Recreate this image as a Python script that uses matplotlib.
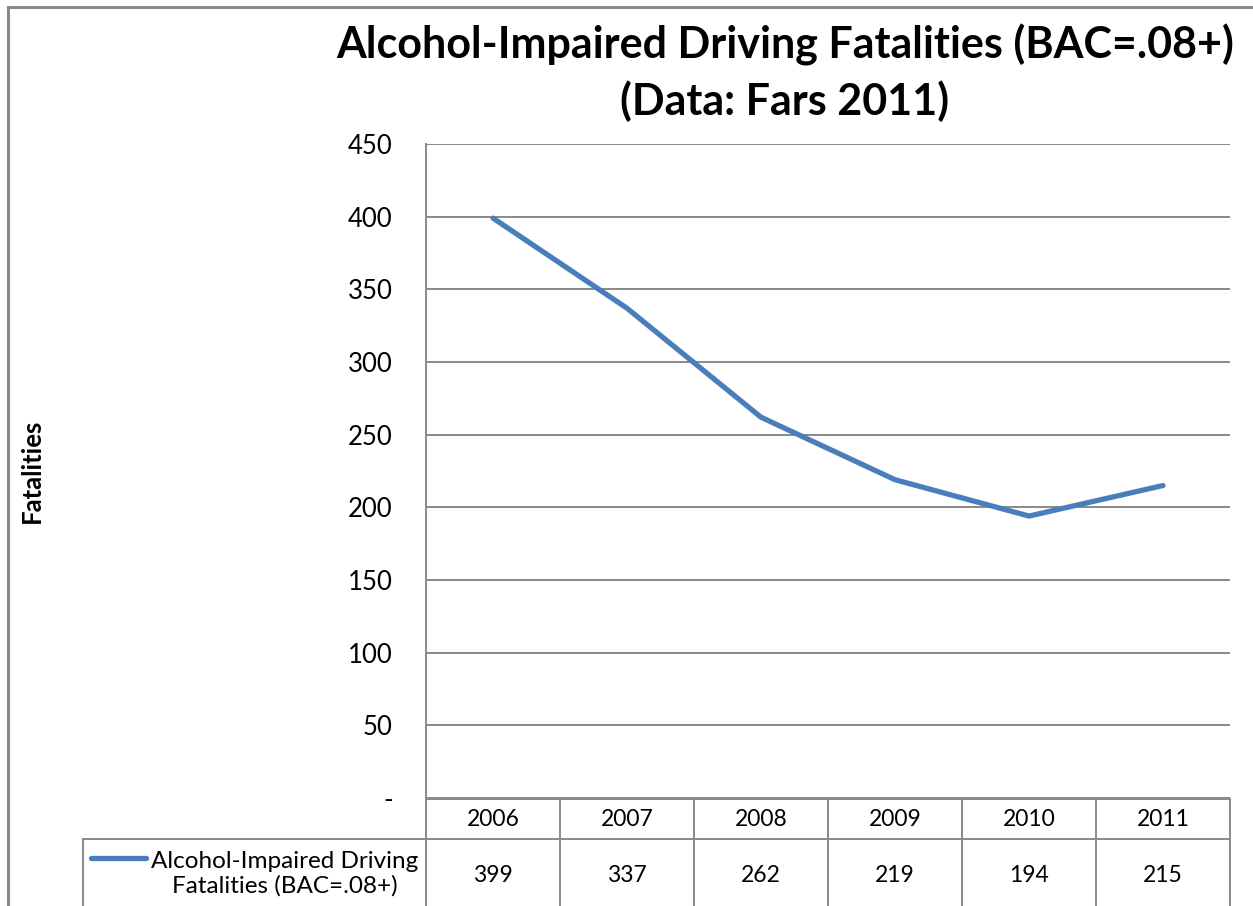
import matplotlib.pyplot as plt
from matplotlib.lines import Line2D
from matplotlib.patches import Rectangle

plt.rcParams['font.family'] = ['Lato', 'DejaVu Sans']

years = ["2006", "2007", "2008", "2009", "2010", "2011"]
fatalities = [399, 337, 262, 219, 194, 215]
series_name = "Alcohol-Impaired Driving\nFatalities (BAC=.08+)"
yticks = [0, 50, 100, 150, 200, 250, 300, 350, 400, 450]
ytick_labels = ["-", "50", "100", "150", "200", "250", "300", "350", "400", "450"]

W, H = 1253, 906
fig = plt.figure(figsize=(W / 100, H / 100), dpi=100)
grey = "#898989"
blue = "#4A7EBB"

# outer chart border (cropped on right and bottom)
fig.patches.append(Rectangle((8 / W, -0.1), 1.2, 1 - 7 / H + 0.1, transform=fig.transFigure,
                             fill=False, edgecolor=grey, linewidth=2.2))

left, right, top, bottom = 426 / W, 1230 / W, 1 - 144 / H, 1 - 798 / H
ax = fig.add_axes([left, bottom, right - left, top - bottom])

x = list(range(len(years)))
ax.plot(x, fatalities, color=blue, linewidth=3.8, solid_capstyle="round")
ax.set_xlim(-0.5, len(years) - 0.5)
ax.set_ylim(0, 450)
ax.set_yticks(yticks)
ax.set_yticklabels(ytick_labels, fontsize=18.5)
ax.set_xticks([])
ax.tick_params(axis="y", length=0, pad=24)
ax.yaxis.grid(True, color=grey, linewidth=1.4)
ax.set_axisbelow(True)
for s in ["top", "right", "bottom"]:
    ax.spines[s].set_visible(False)
ax.spines["left"].set_color(grey)
ax.spines["left"].set_linewidth(1.4)

ax.set_ylabel("Fatalities", fontsize=18.5, fontweight="bold", labelpad=0)
ax.yaxis.set_label_coords(-(426 - 44) / (1230 - 426), 0.5)

fig.text(785 / W, 1 - 45 / H, "Alcohol-Impaired Driving Fatalities (BAC=.08+)",
         ha="center", va="center", fontsize=31, fontweight="bold")
fig.text(785 / W, 1 - 101 / H, "(Data: Fars 2011)",
         ha="center", va="center", fontsize=31, fontweight="bold")

# data table below the plot
def fy(py):
    return 1 - py / H

def fx(px):
    return px / W

col_edges = [left + (right - left) * i / len(years) for i in range(len(years) + 1)]
lines = []
# horizontal lines
lines.append(((fx(426), fx(1230)), (fy(799), fy(799))))
lines.append(((fx(83), fx(1230)), (fy(839), fy(839))))
# vertical lines
for ce in col_edges:
    lines.append(((ce, ce), (fy(799), -0.05)))
lines.append(((fx(83), fx(83)), (fy(839), -0.05)))
for xs, ys in lines:
    fig.add_artist(Line2D(xs, ys, transform=fig.transFigure, color=grey, linewidth=1.4))

for i, yr in enumerate(years):
    cx = (col_edges[i] + col_edges[i + 1]) / 2
    fig.text(cx, fy(819), yr, ha="center", va="center", fontsize=16.5)
    fig.text(cx, fy(876), str(fatalities[i]), ha="center", va="center", fontsize=16.5)

fig.add_artist(Line2D([fx(91), fx(146)], [fy(858), fy(858)], transform=fig.transFigure,
                      color=blue, linewidth=3.8, solid_capstyle="round"))
fig.text(fx(418), fy(874), series_name, ha="right", va="center", fontsize=17.5,
         linespacing=1.2, multialignment="center")

fig.savefig("out.png", dpi=100)
